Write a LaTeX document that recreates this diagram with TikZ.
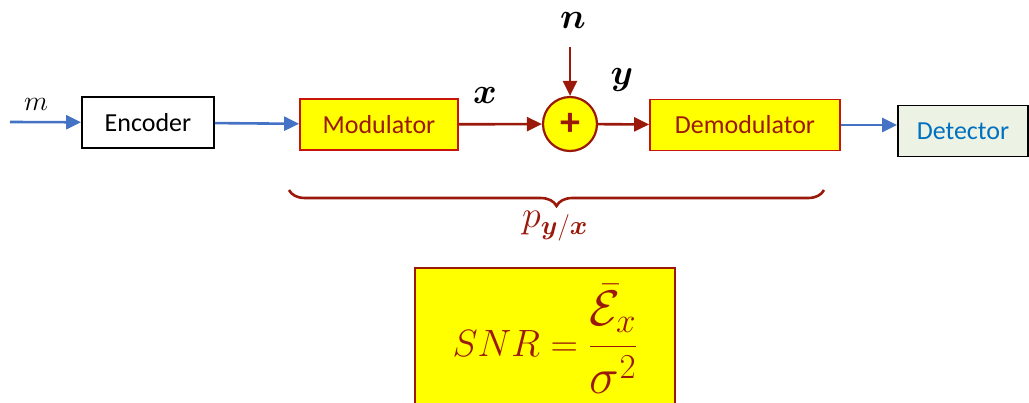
\RequirePackage{fix-cm}
\documentclass[tikz,border=0pt]{standalone}
\usepackage{amsmath}
\usepackage{fontspec}
\setmainfont{Carlito}
\usetikzlibrary{arrows.meta, positioning, calc, decorations.pathreplacing}
\definecolor{sigred}{RGB}{155,25,10}
\definecolor{boxred}{RGB}{200,20,10}
\definecolor{sigyellow}{RGB}{255,255,0}
\definecolor{sigblue}{RGB}{68,114,196}
\definecolor{detblue}{RGB}{0,112,192}
\definecolor{detgreen}{RGB}{236,243,228}

\begin{document}
\begin{tikzpicture}[x=1pt, y=-1pt,
    blk/.style={rectangle, line width=1.8pt, minimum height=51pt,
        font=\fontsize{26}{30}\selectfont},
    plainblk/.style={blk, draw=black, fill=white},
    yelblk/.style={blk, draw=boxred, fill=sigyellow, text=sigred},
    detblk/.style={blk, draw=black, fill=detgreen, text=detblue},
    adder/.style={circle, draw=sigred, line width=2.2pt, fill=sigyellow,
        minimum size=54pt, inner sep=0pt, text=sigred,
        font=\fontsize{40}{42}\selectfont\bfseries},
    mathlbl/.style={font=\fontsize{36}{40}\selectfont},
    bluearr/.style={draw=sigblue, line width=2.6pt,
        -{Triangle[length=15pt, width=14pt]}},
    redarr/.style={draw=sigred, line width=2.6pt,
        -{Triangle[length=15pt, width=14pt]}}
]
\useasboundingbox (0,0) rectangle (1029,402);

% blocks
\node[plainblk, minimum width=132pt] (enc) at (148,122.5) {Encoder};
\node[yelblk, minimum width=158pt] (mod) at (379,124.5) {Modulator};
\node[adder] (add) at (570,124) {+};
\node[yelblk, minimum width=190pt] (demod) at (745,125) {Demodulator};
\node[detblk, minimum width=130pt] (det) at (963,131) {Detector};

% labels
\coordinate (src) at (10,122);
\coordinate (ntop) at (570,47);
\node[font=\fontsize{28}{32}\selectfont] (mlbl) at (36,104) {$m$};
\node[mathlbl] (nlbl) at (573,20) {$\boldsymbol{n}$};
\node[mathlbl] (xlbl) at (485,95) {$\boldsymbol{x}$};
\node[mathlbl] (ylbl) at (622,80) {$\boldsymbol{y}$};

% signal path
\draw[bluearr] (src) -- (enc);
\draw[bluearr] (enc) -- (mod);
\draw[redarr] (mod) -- (add);
\draw[redarr] (ntop) -- (add);
\draw[redarr] (add) -- (demod);
\draw[bluearr] (demod.east) -- (demod.east -| det.west);

% channel brace
\coordinate (bl) at (289,190);
\coordinate (br) at (824,190);
\draw[sigred, line width=2.6pt,
    decorate, decoration={brace, mirror, amplitude=16pt}] (bl) -- (br);
\node[text=sigred, font=\fontsize{38}{42}\selectfont] (plbl) at (555,226)
    {$p_{\boldsymbol{y}/\boldsymbol{x}}$};

% snr
\node[rectangle, draw=sigred, line width=2pt, fill=sigyellow, text=sigred,
    minimum width=260pt, minimum height=142pt,
    font=\fontsize{38}{42}\selectfont] (snr) at (545,339)
    {$SNR=\raisebox{-3pt}{\fontsize{50}{54}\selectfont
        $\displaystyle\frac{\bar{\mathcal{E}}_x}{\sigma^2}$}$};
\end{tikzpicture}
\end{document}
